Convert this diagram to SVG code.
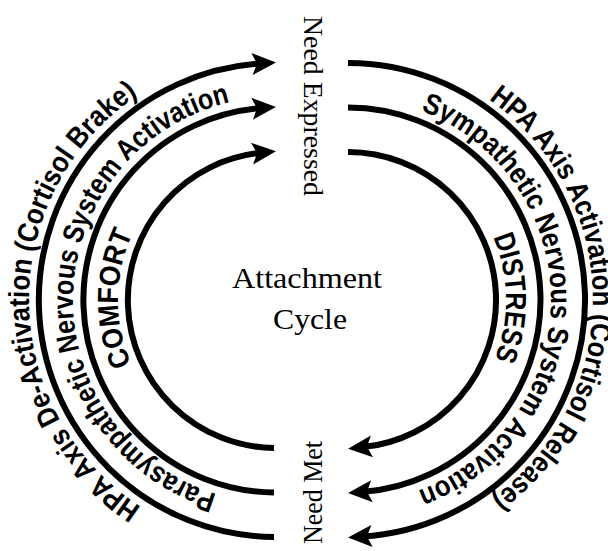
<svg xmlns="http://www.w3.org/2000/svg" width="608" height="551" viewBox="0 0 608 551">
<style>
.arc{fill:none;stroke:#000;stroke-width:6}
.lbl{font-family:"Liberation Sans",Arial,sans-serif;font-size:29px;font-weight:bold;fill:#000}
.srf{font-family:"Liberation Serif","Times New Roman",serif;fill:#000}
</style>
<defs>
<marker id="ah" markerUnits="userSpaceOnUse" markerWidth="28" markerHeight="28" viewBox="-11 -14 28 28" refX="0" refY="0" orient="auto">
<path d="M14,0 L-10,-11 L-5,0 L-10,11 Z" fill="#000"/>
</marker>
<path id="tL1" d="M276,547 A247,247 0 0 1 276,53"/>
<path id="tL2" d="M276,503 A203,203 0 0 1 276,97"/>
<path id="tL3" d="M276,458 A158,158 0 0 1 276,142"/>
<path id="tR1" d="M348,55 A245,245 0 0 1 348,545"/>
<path id="tR2" d="M348,97 A203,203 0 0 1 348,503"/>
<path id="tR3" d="M348,142 A158,158 0 0 1 348,458"/>
</defs>
<rect width="608" height="551" fill="#fff"/>
<g id="connectors">
<path class="arc" marker-end="url(#ah)" d="M274,537 A237,237 0 0 1 262.01,63.41"/>
<path class="arc" marker-end="url(#ah)" d="M274,492.5 A192.5,192.5 0 0 1 262.01,108.01"/>
<path class="arc" marker-end="url(#ah)" d="M274,448 A148,148 0 0 1 262.02,152.66"/>
<path class="arc" marker-end="url(#ah)" d="M348,63 A237,237 0 0 1 361.99,536.59"/>
<path class="arc" marker-end="url(#ah)" d="M348,107.5 A192.5,192.5 0 0 1 361.99,491.99"/>
<path class="arc" marker-end="url(#ah)" d="M348,152 A148,148 0 0 1 361.98,447.34"/>
<text class="lbl"><textPath href="#tL1" startOffset="142.3" textLength="487" lengthAdjust="spacingAndGlyphs">HPA Axis De-Activation (Cortisol Brake)</textPath></text>
<text class="lbl"><textPath href="#tL2" startOffset="60.2" textLength="531" lengthAdjust="spacingAndGlyphs">Parasympathetic Nervous System Activation</textPath></text>
<text class="lbl"><textPath href="#tL3" startOffset="182" textLength="135" lengthAdjust="spacingAndGlyphs">COMFORT</textPath></text>
<text class="lbl"><textPath href="#tR1" startOffset="149.7" textLength="466" lengthAdjust="spacingAndGlyphs">HPA Axis Activation (Cortisol Release)</textPath></text>
<text class="lbl"><textPath href="#tR2" startOffset="74.4" textLength="492" lengthAdjust="spacingAndGlyphs">Sympathetic Nervous System Activation</textPath></text>
<text class="lbl"><textPath href="#tR3" startOffset="183.4" textLength="125" lengthAdjust="spacingAndGlyphs">DISTRESS</textPath></text>
</g>
<g id="need-expressed">
<text class="srf" font-size="27" transform="translate(304,16) rotate(90)" textLength="180" lengthAdjust="spacingAndGlyphs">Need Expressed</text>
</g>
<g id="need-met">
<text class="srf" font-size="27" transform="translate(322,544) rotate(-90)" textLength="103" lengthAdjust="spacingAndGlyphs">Need Met</text>
</g>
<g id="attachment-cycle">
<text class="srf" font-size="30" x="307" y="288" text-anchor="middle" textLength="150" lengthAdjust="spacingAndGlyphs">Attachment</text>
<text class="srf" font-size="30" x="310" y="329" text-anchor="middle" textLength="74" lengthAdjust="spacingAndGlyphs">Cycle</text>
</g>
</svg>
